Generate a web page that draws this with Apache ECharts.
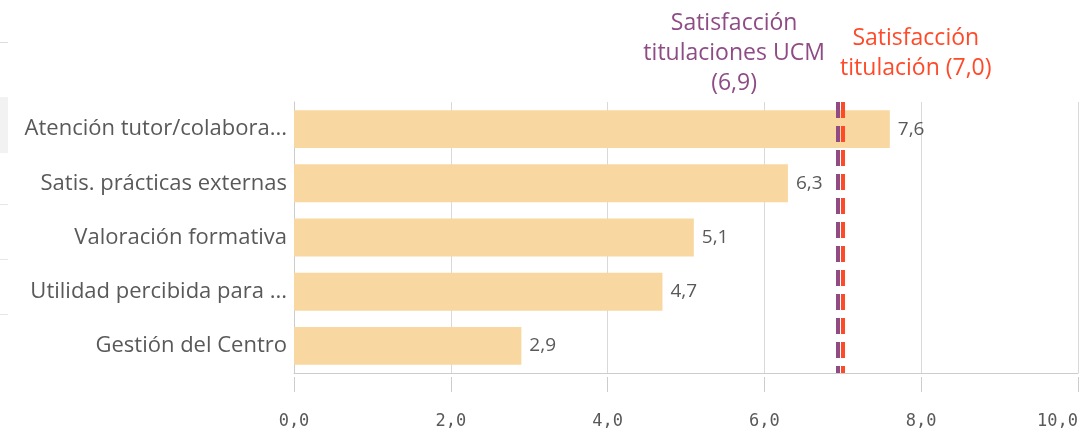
<!DOCTYPE html>
<html>
<head>
<meta charset="utf-8">
<script src="https://cdn.jsdelivr.net/npm/echarts@6/dist/echarts.min.js"></script>
<style>
  html, body { margin: 0; padding: 0; background: #fff; }
  #main { width: 1081px; height: 436px; }
</style>
</head>
<body>
<div id="main"></div>
<script>
const categories = [
  "Atención tutor/colabora...",
  "Satis. prácticas externas",
  "Valoración formativa",
  "Utilidad percibida para ...",
  "Gestión del Centro"
];
const values = [7.6, 6.3, 5.1, 4.7, 2.9];
const refUCM = 6.94;   // Satisfacción titulaciones UCM
const refTitulacion = 7.0; // Satisfacción titulación
const xTicks = [0, 2, 4, 6, 8, 10];

const fmt = (v) => v.toFixed(1).replace(".", ",");
const chart = echarts.init(document.getElementById("main"));

const option = {
  backgroundColor: "#fff",
  animation: false,
  grid: { left: 294, right: 3, top: 102, bottom: 63 },
  xAxis: [
    {
      type: "value",
      min: xTicks[0],
      max: xTicks[xTicks.length - 1],
      interval: 2,
      offset: 4,
      axisLine: { show: false },
      axisTick: { show: true, length: 15, lineStyle: { color: "#cccccc" } },
      axisLabel: {
        margin: 36,
        fontFamily: "DejaVu Sans Mono",
        fontSize: 17,
        color: "#595959",
        alignMaxLabel: "right",
        formatter: (v) => fmt(v)
      },
      splitLine: { show: true, lineStyle: { color: "#d9d9d9", width: 1 } }
    },
    {
      type: "value",
      min: xTicks[0],
      max: xTicks[xTicks.length - 1],
      position: "bottom",
      axisLine: { show: true, lineStyle: { color: "#cccccc", width: 1 } },
      axisTick: { show: false },
      axisLabel: { show: false },
      splitLine: { show: false }
    }
  ],
  yAxis: {
    type: "category",
    inverse: true,
    data: categories,
    axisLine: { show: true, lineStyle: { color: "#cccccc" } },
    axisTick: { show: false },
    axisLabel: {
      margin: 7,
      fontFamily: "Open Sans",
      fontSize: 22,
      color: "#595959"
    }
  },
  series: [
    {
      type: "bar",
      data: values,
      barWidth: "70%",
      itemStyle: { color: "#f9d7a1" },
      label: {
        show: true,
        position: "right",
        distance: 8,
        fontFamily: "Open Sans",
        fontSize: 19,
        color: "#595959",
        formatter: (p) => fmt(p.value)
      },
      markLine: {
        silent: true,
        symbol: "none",
        label: { show: false },
        data: [
          { xAxis: refUCM, lineStyle: { color: "#8e4b84", width: 4, type: [16, 8] } },
          { xAxis: refTitulacion, lineStyle: { color: "#ff4a2a", width: 4, type: [16, 8] } }
        ]
      }
    }
  ]
};

chart.setOption(option);

// annotation texts placed from the axis scale
const xUCM = chart.convertToPixel({ xAxisIndex: 0 }, refUCM);
const xTit = chart.convertToPixel({ xAxisIndex: 0 }, refTitulacion);
const textFont = { fontFamily: "Open Sans", fontSize: 23, lineHeight: 30, align: "center", verticalAlign: "top" };

chart.setOption({
  graphic: [
    { type: "rect", shape: { x: 0, y: 42, width: 8, height: 1 }, style: { fill: "#dddddd" } },
    { type: "rect", shape: { x: 0, y: 97, width: 8, height: 56 }, style: { fill: "#f2f2f2" } },
    { type: "rect", shape: { x: 0, y: 204, width: 8, height: 1 }, style: { fill: "#e6e6e6" } },
    { type: "rect", shape: { x: 0, y: 259, width: 8, height: 1 }, style: { fill: "#e6e6e6" } },
    { type: "rect", shape: { x: 0, y: 314, width: 8, height: 1 }, style: { fill: "#e6e6e6" } },
    {
      type: "text",
      x: xUCM - 104,
      y: 8,
      style: Object.assign({ text: "Satisfacción\ntitulaciones UCM\n(" + fmt(refUCM) + ")", fill: "#8e4b84" }, textFont)
    },
    {
      type: "text",
      x: xTit + 73,
      y: 23,
      style: Object.assign({ text: "Satisfacción\ntitulación (" + fmt(refTitulacion) + ")", fill: "#ff4a2a" }, textFont)
    }
  ]
});
</script>
</body>
</html>
